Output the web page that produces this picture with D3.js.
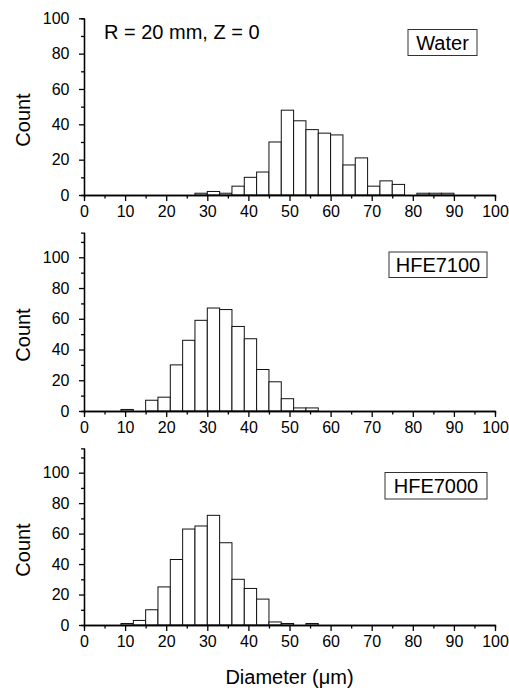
<!DOCTYPE html>
<html>
<head>
<meta charset="utf-8">
<script src="https://cdn.jsdelivr.net/npm/d3@7"></script>
<style>
    body { margin: 0; background: #fff; }
    svg text { font-family: 'Liberation Sans', Arial, sans-serif; fill: #000; }
</style>
</head>
<body>
<svg class="histograms"></svg>
<script>
'use strict';

// bin width of the histograms, in um
var binWidth = 3;

// left edge of each bin and its count
var waterBins = [27, 30, 33, 36, 39, 42, 45, 48, 51, 54, 57, 60, 63, 66, 69, 72, 75, 78, 81, 84, 87];
var waterCounts = [1, 2, 1, 5, 10, 13, 30, 48, 42, 37, 35, 34, 17, 21, 5, 8, 6, 0, 1, 1, 1];

var hfe7100Bins = [9, 12, 15, 18, 21, 24, 27, 30, 33, 36, 39, 42, 45, 48, 51, 54];
var hfe7100Counts = [1, 0, 7, 9, 30, 46, 59, 67, 66, 55, 47, 27, 19, 8, 2, 2];

var hfe7000Bins = [9, 12, 15, 18, 21, 24, 27, 30, 33, 36, 39, 42, 45, 48, 51, 54];
var hfe7000Counts = [1, 3, 10, 25, 43, 63, 65, 72, 54, 30, 24, 17, 2, 1, 0, 1];

var xMajorTicks = [0, 10, 20, 30, 40, 50, 60, 70, 80, 90, 100];
var xMinorTicks = [5, 15, 25, 35, 45, 55, 65, 75, 85, 95];
var yMajorTicks = [0, 20, 40, 60, 80, 100];
var yMinorTicks1 = [10, 30, 50, 70, 90];
var yMinorTicks2 = [10, 30, 50, 70, 90, 110];

var legendNames = ['Water', 'HFE7100', 'HFE7000'];
var noteText = 'R = 20 mm, Z = 0';
var xTitle = 'Diameter (\u03bcm)';
var yTitle = 'Count';

var panels = [
    { bins: waterBins, counts: waterCounts, yMax: 100, yMinor: yMinorTicks1,
      top: 18.3, bottom: 195, box: { x: 408, y: 29.5, w: 69, h: 26 }, countY: 120 },
    { bins: hfe7100Bins, counts: hfe7100Counts, yMax: 116, yMinor: yMinorTicks2,
      top: 232.7, bottom: 411, box: { x: 389, y: 252, w: 98, h: 25.5 }, countY: 335 },
    { bins: hfe7000Bins, counts: hfe7000Counts, yMax: 116, yMinor: yMinorTicks2,
      top: 448.3, bottom: 625, box: { x: 385, y: 472.5, w: 102, h: 26.5 }, countY: 550 }
];

var svgWidth = 509,
    svgHeight = 690,
    left = 84,
    right = 495;

var svg = d3.select('svg.histograms')
    .attr('width', svgWidth)
    .attr('height', svgHeight);

var xScale = d3.scaleLinear().domain([0, 100]).range([left, right]);

var drawPanel = function(p, i) {
    var yScale = d3.scaleLinear().domain([0, p.yMax]).range([p.bottom, p.top]);
    var g = svg.append('g');

    var bars = p.bins.map(function(b, j) { return { x0: b, count: p.counts[j] }; })
        .filter(function(d) { return d.count > 0; });

    g.selectAll('rect.bar').data(bars).enter().append('rect')
        .attr('class', 'bar')
        .attr('x', function(d) { return xScale(d.x0); })
        .attr('width', function(d) { return xScale(d.x0 + binWidth) - xScale(d.x0); })
        .attr('y', function(d) { return yScale(d.count); })
        .attr('height', function(d) { return yScale(0) - yScale(d.count); })
        .attr('fill', '#fff')
        .attr('stroke', '#111')
        .attr('stroke-width', 1);

    // minor ticks first, then major axis on top
    var xMinor = d3.axisBottom(xScale).tickValues(xMinorTicks).tickSize(3.5).tickFormat('');
    var yMinor = d3.axisLeft(yScale).tickValues(p.yMinor).tickSize(3).tickFormat('');
    var xAxis = d3.axisBottom(xScale).tickValues(xMajorTicks).tickSize(6).tickSizeOuter(0).tickPadding(4.5);
    var yAxis = d3.axisLeft(yScale).tickValues(yMajorTicks).tickSize(5).tickSizeOuter(0).tickPadding(9.5);

    [xMinor, xAxis].forEach(function(ax) {
        g.append('g').attr('transform', 'translate(0,' + p.bottom + ')').call(ax);
    });
    [yMinor, yAxis].forEach(function(ax) {
        g.append('g').attr('transform', 'translate(' + left + ',0)').call(ax);
    });

    g.selectAll('.domain, .tick line').attr('stroke', '#000').attr('stroke-width', 1.3);
    g.selectAll('.tick text').style('font-size', '16px').attr('fill', '#000');

    g.append('text')
        .attr('transform', 'translate(30,' + p.countY + ') rotate(-90)')
        .attr('text-anchor', 'middle')
        .style('font-size', '20px')
        .text(yTitle);

    g.append('rect')
        .attr('x', p.box.x).attr('y', p.box.y)
        .attr('width', p.box.w).attr('height', p.box.h)
        .attr('fill', '#fff').attr('stroke', '#333').attr('stroke-width', 1);
    g.append('text')
        .attr('x', p.box.x + p.box.w / 2)
        .attr('y', p.box.y + p.box.h / 2 + 7)
        .attr('text-anchor', 'middle')
        .style('font-size', '20px')
        .text(legendNames[i]);
};

panels.forEach(drawPanel);

svg.append('text')
    .attr('x', 104).attr('y', 39)
    .style('font-size', '20px')
    .text(noteText);

svg.append('text')
    .attr('x', (left + right) / 2).attr('y', 684)
    .attr('text-anchor', 'middle')
    .style('font-size', '20px')
    .text(xTitle);
</script>
</body>
</html>
